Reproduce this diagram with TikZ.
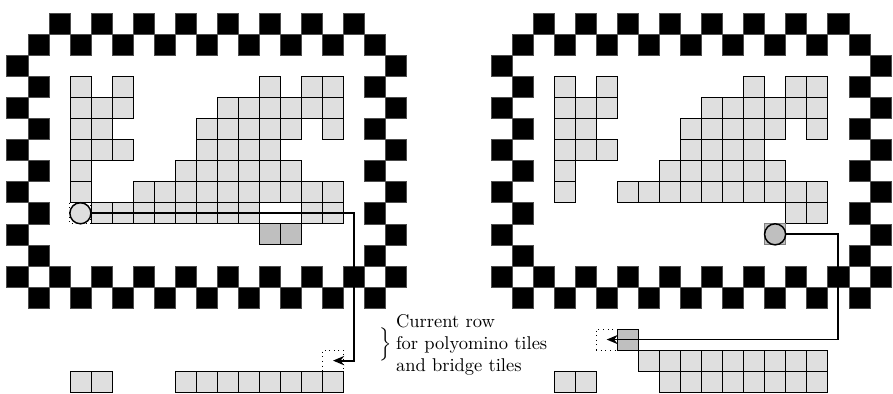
\documentclass[tikz,border=0pt]{standalone}
\usepackage{amsmath,amssymb}
\usepackage{tikz}
\usetikzlibrary{arrows.meta}

\tikzset{
  wall/.style={fill=black,draw=black!70,line width=0.3pt},
  tile/.style={fill=gray!25,draw=black,line width=0.4pt},
  heldtile/.style={fill=gray!50,draw=black,line width=0.4pt},
  slot/.style={draw,dotted,line width=0.5pt,minimum size=0.4cm,inner sep=0pt},
  robot/.style={circle,draw,line width=0.8pt,minimum size=0.4cm,inner sep=0pt},
  route/.style={line width=1pt,-{Stealth[length=6pt,width=5pt]}}
}

\begin{document}
\begin{tikzpicture}[x=0.4cm,y=0.4cm,every node/.style={font=\normalsize}]
\useasboundingbox (-0.32,0.63) rectangle (42.1,-18.04);
\foreach \dx in {0,23} {
  \begin{scope}[shift={(\dx,0)}]
    \foreach \c in {2,4,...,16} \filldraw[wall] (\c,0) rectangle ++(1,-1);
    \foreach \c in {1,3,...,17} \filldraw[wall] (\c,-1) rectangle ++(1,-1);
    \foreach \c in {0,2,...,18} \filldraw[wall] (\c,-12) rectangle ++(1,-1);
    \foreach \c in {1,3,...,17} \filldraw[wall] (\c,-13) rectangle ++(1,-1);
    \foreach \r in {2,4,...,10} {
      \filldraw[wall] (0,-\r) rectangle ++(1,-1);
      \filldraw[wall] (18,-\r) rectangle ++(1,-1);
    }
    \foreach \r in {3,5,...,11} {
      \filldraw[wall] (1,-\r) rectangle ++(1,-1);
      \filldraw[wall] (17,-\r) rectangle ++(1,-1);
    }
    \foreach \r/\cols in {3/{3,5,12,14,15},4/{3,4,5,10,11,12,13,14,15},
        5/{3,4,9,10,11,12,13,15},6/{3,4,5,9,10,11,12},7/{3,8,9,10,11,12,13},
        8/{3,6,7,8,9,10,11,12,13,14,15},17/{3,4,8,9,10,11,12,13,14,15}}
      \foreach \c in \cols \filldraw[tile] (\c,-\r) rectangle ++(1,-1);
  \end{scope}
}

\foreach \c in {4,5,6,7,8,9,10,11,14,15} \filldraw[tile] (\c,-9) rectangle ++(1,-1);
\foreach \c in {12,13} \filldraw[heldtile] (\c,-10) rectangle ++(1,-1);
\draw[dotted,line width=0.5pt] (3,-9) rectangle (4,-10);
\node[robot,fill=gray!25] (startL) at (3.5,-9.5) {};
\node[slot] (slotL) at (15.5,-16.5) {};
\coordinate (bendL) at (16.5,-16.5);

\foreach \c in {37,38} \filldraw[tile] (\c,-9) rectangle ++(1,-1);
\foreach \c in {30,31,...,38} \filldraw[tile] (\c,-16) rectangle ++(1,-1);
\filldraw[heldtile] (29,-15) rectangle (30,-16);
\filldraw[fill=gray!50,draw=gray] (36,-10) rectangle (37,-11);
\node[robot,fill=gray!50] (startR) at (36.5,-10.5) {};
\node[slot] (slotR) at (28.5,-15.5) {};
\coordinate (bendR) at (39.5,-15.5);

\draw[route] (startL) -| (bendL) -- (slotL.center);
\draw[route] (startR) -| (bendR) -- (slotR.center);

\node[anchor=west,align=left,inner sep=2pt] (caption) at (18.3,-15.75)
  {Current row\\for polyomino tiles\\and bridge tiles};
\node[anchor=east,inner sep=0pt] (brace) at (caption.west) {$\Big\}$};
\end{tikzpicture}
\end{document}
